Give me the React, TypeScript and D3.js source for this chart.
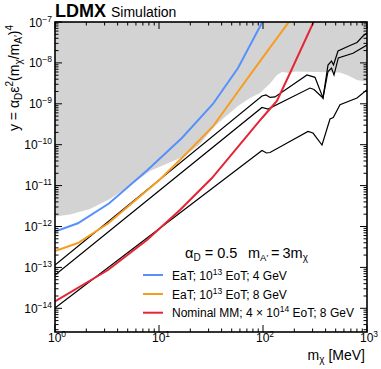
import React from 'react';
import * as d3 from 'd3';

// ---------------- data ----------------
const blueMass = [1, 1.66, 3.3, 7.66, 16.6, 33, 57.5, 100];
const blueY = [7.55e-13, 1.2e-12, 3.65e-12, 2.34e-11, 1.46e-10, 9.9e-10, 7.5e-9, 1.07e-7];

const orangeMass = [1, 1.66, 3.23, 10.2, 16.6, 33, 57.5, 95.7, 180];
const orangeY = [2.52e-13, 3.95e-13, 1.18e-12, 1.41e-11, 4.73e-11, 2.79e-10, 2.0e-9, 1.18e-8, 1.06e-7];

const redMass = [1, 3.23, 7.66, 15.9, 32.3, 97.8, 136, 182, 310];
const redY = [1.47e-14, 8.64e-14, 4.67e-13, 2.53e-12, 1.53e-11, 4.5e-10, 1.17e-9, 5.66e-9, 1.07e-7];

const relicAMass = [1, 97.8, 106.9, 116.8, 130.4, 264.9, 316.2, 377.5, 421.7, 455.7, 476.4, 526.2, 686.4, 801.4, 915, 1000];
const relicAY = [1.145e-13, 1.55e-9, 1.64e-9, 1.43e-9, 1.47e-9, 5.06e-9, 4.44e-9, 1.39e-9, 8.89e-9, 1.11e-8, 8.89e-9, 1.95e-8, 2.66e-8, 3.15e-8, 4.55e-8, 5.38e-8];

const relicBMass = [1, 97.8, 111.7, 283.1, 309.3, 377.5, 421.7, 455.7, 481.7, 529.7, 733.6, 1000];
const relicBY = [6.52e-14, 8.12e-10, 7.46e-10, 2.43e-9, 2.24e-9, 1.39e-9, 6.16e-9, 7.5e-9, 5.06e-9, 1.32e-8, 1.72e-8, 2.74e-8];

const relicCMass = [1, 97.8, 108.1, 116.8, 270.8, 302.6, 369.3, 440.8, 474.2, 550, 801.4, 1000];
const relicCY = [1.02e-14, 7.21e-11, 6.27e-11, 6.45e-11, 2.1e-10, 1.93e-10, 9.83e-11, 4.25e-10, 4.62e-10, 9.5e-10, 1.39e-9, 2.21e-9];

const excludedMass = [1, 1.394, 2.171, 3.38, 5.623, 8.195, 11.42, 17.78, 24.79, 33.05, 43.12, 57.49, 74.99, 93.58, 116.8, 136.3, 152.3, 181.8, 203.1, 550, 642.3, 801.4, 1000];
const excludedY = [1.756e-12, 1.965e-12, 2.68e-12, 4.7e-12, 1.125e-11, 2.275e-11, 3.28e-11, 5.29e-11, 1.04e-10, 2.56e-10, 4.76e-10, 8.84e-10, 1.386e-9, 1.837e-9, 3.13e-9, 5.06e-9, 5.99e-9, 5.66e-9, 6.16e-9, 5.83e-9, 5.06e-9, 3.82e-9, 3.41e-9];

const xDecades = [0, 1, 2, 3];
const yDecades = [-7, -8, -9, -10, -11, -12, -13, -14];

const legendLabels = [
  { pre: 'EaT; 10', sup: '13', post: ' EoT; 4 GeV' },
  { pre: 'EaT; 10', sup: '13', post: ' EoT; 8 GeV' },
  { pre: 'Nominal MM; 4 \u00d7 10', sup: '14', post: ' EoT; 8 GeV' },
];

// ---------------- layout ----------------
const W = 381;
const H = 369;
const L = 55, T = 22, R = 367, B = 332;
const FONT = '"Liberation Sans", Arial, Helvetica, sans-serif';
const BLUE = '#5790fc';
const ORANGE = '#f89c20';
const RED = '#e42536';
const GRAY = '#d3d3d3';

const x = d3.scaleLog().domain([1, 1000]).range([L, R]);
const yMin = Math.pow(10, -7 - (B - T) / 40.9);
const y = d3.scaleLog().domain([yMin, 1e-7]).range([B, T]);

const zip = (ms: number[], vs: number[]) => ms.map((m, i) => [m, vs[i]] as [number, number]);
const line = d3.line<[number, number]>().x(d => x(d[0])).y(d => y(d[1]));
const area = d3.area<[number, number]>().x(d => x(d[0])).y0(T).y1(d => y(d[1]));

const minus = (n: number) => (n < 0 ? '\u2212' + Math.abs(n) : String(n));

export default function App() {
  const xMinor: number[] = [];
  for (const d of [0, 1, 2]) for (let k = 2; k <= 9; k++) xMinor.push(k * Math.pow(10, d));
  const yMinor: number[] = [];
  for (let d = -15; d <= -8; d++) for (let k = 2; k <= 9; k++) {
    const v = k * Math.pow(10, d);
    if (v >= yMin && v <= 1e-7) yMinor.push(v);
  }
  const majL = 7, minL = 3.5;
  const legY = [275, 294, 312.7];
  const legColors = [BLUE, ORANGE, RED];

  return (
    <svg width={W} height={H} style={{ position: 'absolute', left: 0, top: 0, background: '#fff' }} fontFamily={FONT}>
      <defs>
        <clipPath id="plotclip">
          <rect x={L} y={T} width={R - L} height={B - T} />
        </clipPath>
      </defs>
      <rect x={0} y={0} width={W} height={H} fill="#fff" />
      <g clipPath="url(#plotclip)">
        <path d={area(zip(excludedMass, excludedY)) || ''} fill={GRAY} stroke="none" />
        <path d={line(zip(relicAMass, relicAY)) || ''} fill="none" stroke="#000" strokeWidth={1.2} />
        <path d={line(zip(relicBMass, relicBY)) || ''} fill="none" stroke="#000" strokeWidth={1.2} />
        <path d={line(zip(relicCMass, relicCY)) || ''} fill="none" stroke="#000" strokeWidth={1.2} />
        <path d={line(zip(blueMass, blueY)) || ''} fill="none" stroke={BLUE} strokeWidth={2} />
        <path d={line(zip(orangeMass, orangeY)) || ''} fill="none" stroke={ORANGE} strokeWidth={2} />
        <path d={line(zip(redMass, redY)) || ''} fill="none" stroke={RED} strokeWidth={2} />
      </g>

      {/* ticks */}
      <g stroke="#000" strokeWidth={1}>
        {xDecades.map(d => {
          const px = x(Math.pow(10, d));
          return (
            <g key={'xM' + d}>
              <line x1={px} x2={px} y1={B} y2={B - majL} />
              <line x1={px} x2={px} y1={T} y2={T + majL} />
            </g>
          );
        })}
        {xMinor.map(v => {
          const px = x(v);
          return (
            <g key={'xm' + v}>
              <line x1={px} x2={px} y1={B} y2={B - minL} />
              <line x1={px} x2={px} y1={T} y2={T + minL} />
            </g>
          );
        })}
        {yDecades.map(d => {
          const py = y(Math.pow(10, d));
          return (
            <g key={'yM' + d}>
              <line x1={L} x2={L + majL} y1={py} y2={py} />
              <line x1={R} x2={R - majL} y1={py} y2={py} />
            </g>
          );
        })}
        {yMinor.map(v => {
          const py = y(v);
          return (
            <g key={'ym' + v}>
              <line x1={L} x2={L + minL} y1={py} y2={py} />
              <line x1={R} x2={R - minL} y1={py} y2={py} />
            </g>
          );
        })}
      </g>
      <rect x={L} y={T} width={R - L} height={B - T} fill="none" stroke="#000" strokeWidth={1.6} />

      {/* y tick labels */}
      {yDecades.map(d => (
        <text key={'yl' + d} x={52} y={y(Math.pow(10, d)) + 4.5} textAnchor="end" fontSize={12}>
          10<tspan dy={-5} fontSize={8.5}>{minus(d)}</tspan>
        </text>
      ))}
      {/* x tick labels */}
      {xDecades.map(d => (
        <text key={'xl' + d} x={x(Math.pow(10, d)) + 2} y={342} textAnchor="middle" fontSize={12}>
          10<tspan dy={-5} fontSize={8.5}>{d}</tspan>
        </text>
      ))}

      {/* axis titles */}
      <text x={365} y={360} textAnchor="end" fontSize={14}>
        m<tspan dy={3} fontSize={10}>{'\u03c7'}</tspan><tspan dy={-3}> [MeV]</tspan>
      </text>
      <text transform="translate(19,25) rotate(-90)" textAnchor="end" fontSize={14}>
        {'y = \u03b1'}<tspan dy={3} fontSize={10}>D</tspan>
        <tspan dy={-3}>{'\u03b5'}</tspan><tspan dy={-6} fontSize={10}>2</tspan>
        <tspan dy={6}>(m</tspan><tspan dy={3} fontSize={10}>{'\u03c7'}</tspan>
        <tspan dy={-3}>/m</tspan><tspan dy={3} fontSize={10}>{'A\u2032'}</tspan>
        <tspan dy={-3}>)</tspan><tspan dy={-6} fontSize={10}>4</tspan>
      </text>

      {/* header */}
      <text x={55} y={17} fontSize={18} fontWeight="bold">LDMX</text>
      <text x={111} y={17} fontSize={14}>Simulation</text>

      {/* annotation */}
      <text x={185} y={258} fontSize={14.5}>
        {'\u03b1'}<tspan dy={3} fontSize={10}>D</tspan><tspan dy={-3}>{' = 0.5'}</tspan>
      </text>
      <text x={248} y={258} fontSize={14.5}>
        m<tspan dy={3} fontSize={9.5}>{'A\u2032'}</tspan><tspan dy={-3}>{'\u2009=\u20093m'}</tspan>
        <tspan dy={3} fontSize={10}>{'\u03c7'}</tspan>
      </text>

      {/* legend */}
      {legendLabels.map((lab, i) => (
        <g key={'leg' + i}>
          <line x1={143} x2={163} y1={legY[i]} y2={legY[i]} stroke={legColors[i]} strokeWidth={2} />
          <text x={172} y={legY[i] + 4.5} fontSize={12}>
            {lab.pre}<tspan dy={-5} fontSize={8.5}>{lab.sup}</tspan><tspan dy={5}>{lab.post}</tspan>
          </text>
        </g>
      ))}
    </svg>
  );
}
